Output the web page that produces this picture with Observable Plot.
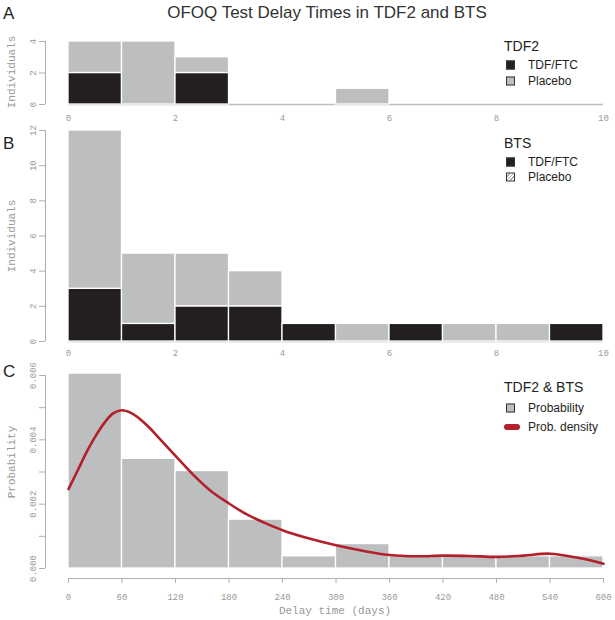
<!DOCTYPE html>
<html>
<head>
<meta charset="utf-8">
<script src="https://cdn.jsdelivr.net/npm/d3@7"></script>
<script src="https://cdn.jsdelivr.net/npm/@observablehq/plot@0.6"></script>
<style>
  body { margin: 0; background: #fff; }
  #chart { position: relative; width: 615px; height: 620px; overflow: hidden;
           font-family: "Liberation Sans", Arial, sans-serif; color: #231f20; }
  .t { position: absolute; white-space: nowrap; line-height: 1; transform: translateY(-50%); }
  .panel { position: absolute; left: 0; }
  .ylab { position: absolute; white-space: nowrap; line-height: 1; font-family: "Liberation Mono", monospace;
          font-size: 11px; color: #999; transform: translate(-50%, -50%) rotate(-90deg); }
  .sw { position: absolute; width: 9px; height: 9px; box-sizing: border-box; border: 1px solid #333;
        transform: translateY(-50%); }
</style>
</head>
<body>
<div id="chart"></div>
<script>
// ---- data ----
const binStarts = [0, 1, 2, 3, 4, 5, 6, 7, 8, 9];          // delay-time bins (panels A, B)
const tdf2Treatment = [2, 0, 2, 0, 0, 0, 0, 0, 0, 0];       // TDF2, TDF/FTC
const tdf2Placebo   = [2, 4, 1, 0, 0, 1, 0, 0, 0, 0];       // TDF2, Placebo
const btsTreatment  = [3, 1, 2, 2, 1, 0, 1, 0, 0, 1];       // BTS, TDF/FTC
const btsPlacebo    = [9, 4, 3, 2, 0, 1, 0, 1, 1, 0];       // BTS, Placebo
const dayBinStarts = [0, 60, 120, 180, 240, 300, 360, 420, 480, 540];
const probability  = [0.00606, 0.00341, 0.00303, 0.00152, 0.00038, 0.00076, 0.00038, 0.00038, 0.00038, 0.00038];
const densityDays   = [0, 10, 20, 30, 40, 50, 60, 70, 80, 90, 100, 120, 140, 160, 180, 200, 220, 240, 270, 300, 330, 360, 390, 420, 450, 480, 510, 540, 570, 600];
const densityValues = [0.00247, 0.00303, 0.00360, 0.00410, 0.00452, 0.00482, 0.00492, 0.00484, 0.00465, 0.00440, 0.00410, 0.00350, 0.00291, 0.00240, 0.00202, 0.00168, 0.00142, 0.00119, 0.00093, 0.00072, 0.00055, 0.00042, 0.00038, 0.00040, 0.00039, 0.00036, 0.00040, 0.00046, 0.00034, 0.00015];
const xTicksAB = [0, 2, 4, 6, 8, 10];
const yTicksA = [0, 2, 4];
const yTicksB = [0, 2, 4, 6, 8, 10, 12];
const xTicksC = [0, 60, 120, 180, 240, 300, 360, 420, 480, 540, 600];
const yTicksC = [0, 0.001, 0.002, 0.003, 0.004, 0.005, 0.006];
const yLabelsC = ["0.000", "", "0.002", "", "0.004", "", "0.006"];
const groups = ["TDF/FTC", "Placebo"];

// ---- styles ----
const BLACK = "#231f20", GREY = "#bcbec0", RED = "#b2202a", AXIS = "#b0b0b0";
const baseStyle = { fontFamily: "Liberation Mono, monospace", fontSize: "9px", color: "#9a9a9a",
                    background: "transparent", overflow: "visible" };
const chart = document.getElementById("chart");

function place(svg, top) {
  const d = document.createElement("div");
  d.className = "panel"; d.style.top = top + "px";
  d.appendChild(svg); chart.appendChild(d);
}

function countPanel(treat, placebo, yTicks, o) {
  const rows = [];
  binStarts.forEach((b, i) => {
    if (treat[i] > 0) rows.push({ x1: b, x2: b + 1, n: treat[i], g: groups[0] });
    if (placebo[i] > 0) rows.push({ x1: b, x2: b + 1, n: placebo[i], g: groups[1] });
  });
  return Plot.plot({
    width: 615, height: o.height,
    marginLeft: 45, marginRight: 12, marginTop: o.mt, marginBottom: o.mb,
    x: { domain: [0, 10], insetLeft: 23 },
    y: { domain: [0, yTicks[yTicks.length - 1]] },
    color: { domain: groups, range: [BLACK, GREY] },
    style: baseStyle,
    marks: [
      Plot.ruleY([0], { x1: 0, x2: 10, stroke: GREY, strokeWidth: 1.5 }),
      Plot.rectY(rows, { x1: "x1", x2: "x2", y: "n", fill: "g", stroke: "white", strokeWidth: 1.3 }),
      Plot.axisY(yTicks, { tickSize: 6, tickRotate: -90, tickPadding: 4, stroke: AXIS, label: null }),
      Plot.ruleX([0], { y1: yTicks[0], y2: yTicks[yTicks.length - 1], dx: -23, stroke: AXIS }),
      Plot.axisX(xTicksAB, { tickSize: 0, tickPadding: o.xpad, label: null })
    ]
  });
}

place(countPanel(tdf2Treatment, tdf2Placebo, yTicksA, { height: 90, mt: 11, mb: 16, xpad: 10 }), 30);
place(countPanel(btsTreatment, btsPlacebo, yTicksB, { height: 240, mt: 10, mb: 19, xpad: 8 }), 120);

const probRows = dayBinStarts.map((d, i) => ({ x1: d, x2: d + 60, p: probability[i] }));
const densRows = densityDays.map((d, i) => ({ day: d, dens: densityValues[i] }));
place(Plot.plot({
  width: 615, height: 260,
  marginLeft: 45, marginRight: 12, marginTop: 15, marginBottom: 42,
  x: { domain: [0, 600], insetLeft: 23 },
  y: { domain: [0, 0.006], insetBottom: 10 },
  style: baseStyle,
  marks: [
    Plot.rectY(probRows, { x1: "x1", x2: "x2", y: "p", fill: GREY, stroke: "white", strokeWidth: 1.3 }),
    Plot.line(densRows, { x: "day", y: "dens", stroke: RED, strokeWidth: 2.6, curve: "catmull-rom" }),
    Plot.axisY(yTicksC, { tickSize: 6, tickRotate: -90, tickPadding: 4, stroke: AXIS, label: null,
                          tickFormat: (d, i) => yLabelsC[i] }),
    Plot.ruleX([0], { y1: yTicksC[0], y2: yTicksC[yTicksC.length - 1], dx: -23, stroke: AXIS }),
    Plot.axisX(xTicksC, { tickSize: 5, tickPadding: 10, stroke: AXIS, label: null }),
    Plot.ruleY([0], { x1: 0, x2: 600, dy: 10, stroke: AXIS })
  ]
}), 360);

// ---- text & legends ----
function text(str, left, top, size, extra) {
  const d = document.createElement("div");
  d.className = "t"; d.textContent = str;
  d.style.left = left + "px"; d.style.top = top + "px"; d.style.fontSize = size + "px";
  if (extra) Object.assign(d.style, extra);
  chart.appendChild(d); return d;
}
function ylab(str, left, top) {
  const d = document.createElement("div");
  d.className = "ylab"; d.textContent = str;
  d.style.left = left + "px"; d.style.top = top + "px";
  chart.appendChild(d);
}
function swatch(left, top, bg) {
  const d = document.createElement("div");
  d.className = "sw"; d.style.left = left + "px"; d.style.top = top + "px"; d.style.background = bg;
  chart.appendChild(d);
}

text("OFOQ Test Delay Times in TDF2 and BTS", 327, 12, 17, { transform: "translate(-50%,-50%)", color: "#333" });
text("A", 3, 13, 17); text("B", 3, 143, 17); text("C", 3, 371, 17);

ylab("Individuals", 12, 72);
ylab("Individuals", 12, 236);
ylab("Probability", 12, 462);
const xl = document.createElement("div");
xl.className = "t"; xl.textContent = "Delay time (days)";
Object.assign(xl.style, { left: "335px", top: "611px", fontFamily: "Liberation Mono, monospace", fontSize: "11px",
  color: "#999", transform: "translate(-50%,-50%)" });
chart.appendChild(xl);

// legend A
text("TDF2", 504, 46, 14);
swatch(506, 65, BLACK); text(groups[0], 528, 65, 12);
swatch(506, 81, GREY);  text(groups[1], 528, 81, 12);
// legend B
text("BTS", 504, 143, 14);
swatch(506, 162, BLACK); text(groups[0], 528, 162, 12);
swatch(506, 177, "repeating-linear-gradient(135deg, #fff 0 1.5px, #aaa 1.5px 2.5px)"); text(groups[1], 528, 177, 12);
// legend C
text("TDF2 & BTS", 504, 387, 14);
swatch(506, 408, GREY); text("Probability", 528, 408, 12);
const pill = document.createElement("div");
Object.assign(pill.style, { position: "absolute", left: "504px", top: "424px", width: "16px", height: "6px",
  borderRadius: "3px", background: RED });
chart.appendChild(pill);
text("Prob. density", 528, 427, 12);
</script>
</body>
</html>
